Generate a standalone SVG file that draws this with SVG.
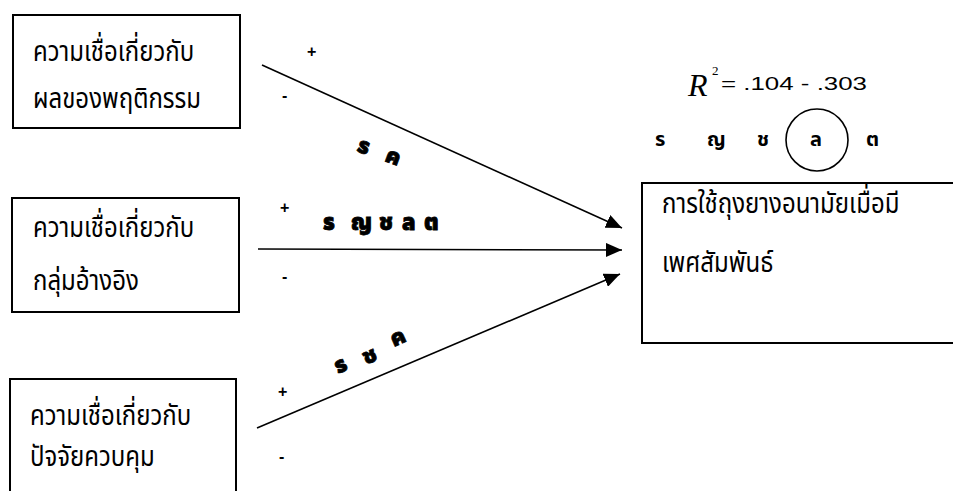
<svg xmlns="http://www.w3.org/2000/svg" width="953" height="491" viewBox="0 0 953 491">
<style>
.box{fill:#fff;stroke:#000;stroke-width:2}
.th{font-family:"Noto Sans Thai","Noto Sans","DejaVu Sans",sans-serif;font-size:24px;fill:#000}
.sg{font-family:"Liberation Sans",Arial,sans-serif;font-size:16px;font-weight:bold;fill:#000}
.bl{font-family:"Noto Sans Thai","Noto Sans","DejaVu Sans",sans-serif;font-size:22px;font-weight:900;fill:#000;stroke:#000;stroke-width:0.8}
.lg{font-family:"Noto Sans Thai","Noto Sans","DejaVu Sans",sans-serif;font-size:20px;font-weight:bold;fill:#000}
.ln{stroke:#000;stroke-width:1.6;fill:none;marker-end:url(#ah)}
</style>
<defs>
<marker id="ah" markerWidth="16" markerHeight="14" refX="16" refY="7" orient="auto" markerUnits="userSpaceOnUse">
<path d="M0,0 L16,7 L0,14 Z" fill="#000"/>
</marker>
</defs>
<rect width="953" height="491" fill="#fff"/>

<g id="node-outcome-beliefs">
<rect class="box" x="13" y="15" width="227" height="113"/>
<text class="th" transform="translate(33,61) scale(1,1.2)">ความเชื่อเกี่ยวกับ</text>
<text class="th" transform="translate(33,108) scale(1,1.2)">ผลของพฤติกรรม</text>
</g>

<g id="node-reference-group">
<rect class="box" x="12" y="198" width="227" height="114"/>
<text class="th" transform="translate(33,237) scale(1,1.2)">ความเชื่อเกี่ยวกับ</text>
<text class="th" transform="translate(33,290) scale(1,1.2)">กลุ่มอ้างอิง</text>
</g>

<g id="node-control-factors">
<rect class="box" x="10" y="379" width="226" height="130"/>
<text class="th" transform="translate(30,425) scale(1,1.2)">ความเชื่อเกี่ยวกับ</text>
<text class="th" transform="translate(30,466) scale(1,1.2)">ปัจจัยควบคุม</text>
</g>

<g id="node-condom-use">
<rect class="box" x="642" y="183" width="330" height="160"/>
<text class="th" transform="translate(662,213) scale(1,1.2)">การใช้ถุงยางอนามัยเมื่อมี</text>
<text class="th" transform="translate(662,272) scale(1,1.2)">เพศสัมพันธ์</text>
</g>

<g id="legend">
<text x="688" y="96" font-family="'Liberation Serif','Times New Roman',serif" font-style="italic" font-size="32">R</text>
<text x="712" y="75" font-family="'Liberation Serif','Times New Roman',serif" font-size="13">2</text>
<text x="721" y="90" font-family="'Liberation Sans',Arial,sans-serif" font-size="18" textLength="146" lengthAdjust="spacingAndGlyphs">= .104 - .303</text>
<text class="lg" x="655 707 757 810 866" y="146">รญชลต</text>
<circle cx="817" cy="140" r="31" fill="none" stroke="#000" stroke-width="1.6"/>
</g>

<g id="connectors">
<line class="ln" x1="262" y1="65" x2="622" y2="228"/>
<line class="ln" x1="258" y1="249" x2="622" y2="250"/>
<line class="ln" x1="257" y1="428" x2="620" y2="274"/>
<text class="sg" x="307" y="57">+</text>
<text class="sg" x="282" y="101">-</text>
<text class="sg" x="280" y="213">+</text>
<text class="sg" x="282" y="282">-</text>
<text class="sg" x="278" y="397">+</text>
<text class="sg" x="279" y="462">-</text>
<text class="bl" transform="translate(356,151) rotate(20)">ร</text>
<text class="bl" transform="translate(384,161) rotate(20)">ค</text>
<text class="bl" x="323 351 379 402 424" y="230">รญชลต</text>
<text class="bl" transform="translate(338,374) rotate(-24)">ร</text>
<text class="bl" transform="translate(366,365) rotate(-24)">ช</text>
<text class="bl" transform="translate(394,347) rotate(-24)">ค</text>
</g>
</svg>
